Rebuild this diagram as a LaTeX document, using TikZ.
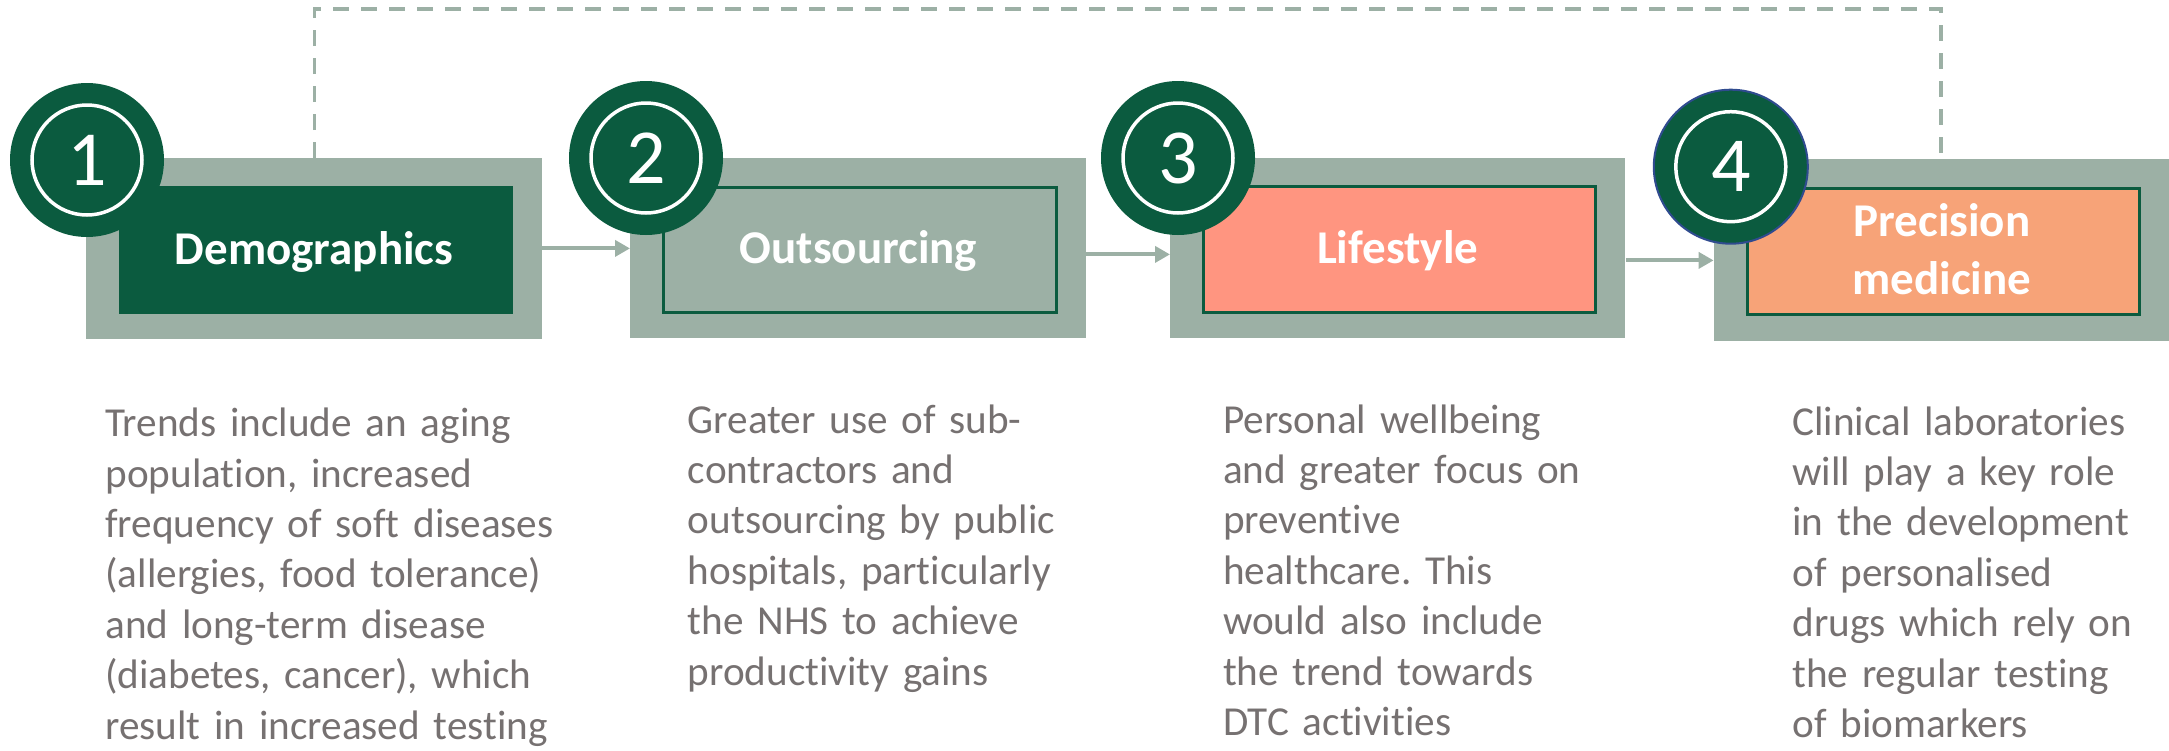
\documentclass[tikz,border=0pt]{standalone}
\usepackage{fontspec}
\setmainfont{Carlito}[Ligatures=NoCommon]
\usetikzlibrary{arrows.meta}
\frenchspacing

\definecolor{dkgreen}{HTML}{0B5B3F}
\definecolor{sage}{HTML}{9CB0A5}
\definecolor{salmon}{HTML}{FF9580}
\definecolor{peach}{HTML}{F7A378}
\definecolor{bodygrey}{HTML}{767171}
\definecolor{navy}{HTML}{2F4B8F}

\begin{document}
\begin{tikzpicture}[x=0.5pt,y=-0.5pt,
  outerbox/.style={fill=sage, draw=none, inner sep=0, anchor=north west, minimum height=90pt},
  innerbox/.style={draw=dkgreen, line width=1.5pt, inner sep=0, anchor=north west},
  title/.style={text=white, font=\fontsize{23.5}{29}\selectfont\bfseries, inner sep=0, anchor=base},
  disc/.style={circle, fill=dkgreen, minimum size=77pt, inner sep=0},
  ring/.style={circle, draw=white, line width=1.75pt, minimum size=55pt, inner sep=0,
    text=white, font=\fontsize{39}{39}\selectfont},
  body/.style={text=bodygrey, font=\fontsize{20.6}{25.2}\selectfont, inner sep=0,
    anchor=base west, text width=250pt, align=left},
  flow/.style={draw=sage, line width=2pt, -{Triangle[length=7.5pt,width=8pt]}},
  feedback/.style={draw=sage, line width=1.65pt, dash pattern=on 8pt off 6pt}]

\useasboundingbox (0,0) rectangle (2169,750);
\clip (0,0) rectangle (2169,750);

% outer frames
\node[outerbox, minimum width=227.75pt] (b1) at (86,158) {};
\node[outerbox, minimum width=227.75pt] (b2) at (630,158) {};
\node[outerbox, minimum width=227.5pt] (b3) at (1170,158) {};
\node[outerbox, minimum width=232pt, minimum height=90.35pt] (b4) at (1713.6,159.3) {};

% feedback loop from the last stage back to the first
\draw[feedback] (b1.north) -- ++(0,-149) -| ([xshift=-2.5pt]b4.north);
\fill[sage] (b1.north west) rectangle (b1.south east);
\fill[sage] (b4.north west) rectangle ([xshift=20pt]b4.south east);

% inner panels
\node[innerbox, draw=none, fill=dkgreen, minimum width=197pt, minimum height=64pt] (i1) at (117,184) {};
\node[innerbox, fill=sage, minimum width=196.25pt, minimum height=62.5pt] (i2) at (662,185.7) {};
\node[innerbox, fill=salmon, minimum width=196pt, minimum height=63pt] (i3) at (1202,185) {};
\node[innerbox, fill=peach, minimum width=195.8pt, minimum height=63pt] (i4) at (1746,186.7) {};

% titles
\node[title] (t1) at (314,264) {Demographics};
\node[title] (t2) at (858.5,263.3) {Outsourcing};
\node[title] (t3) at (1397.6,263.3) {Lifestyle};
\node[title, text width=200pt, align=center] (t4) at (1942,236.7) {Precision\\medicine};

% connectors
\draw[flow] (b1.east) -- (b1.east -| b2.west);
\draw[flow] ([yshift=-3pt]b2.east) -- ([yshift=-3pt]b2.east -| b3.west);
\draw[flow] ([yshift=-6pt]b3.east) -- ([yshift=-6pt]b3.east -| b4.west);

% numbered badges
\node[disc] (n1) at (87,160) {};
\node[ring] (r1) at (n1) {1};
\node[disc] (n2) at (646,158) {};
\node[ring] (r2) at (n2) {2};
\node[disc] (n3) at (1178,158) {};
\node[ring] (r3) at (n3) {3};
\node[disc, draw=navy, line width=1pt] (n4) at (1730.8,166.7) {};
\node[ring] (r4) at (n4) {4};

% descriptions
\node[body] (d1) at (105,436.7) {Trends include an aging\\population, increased\\frequency of soft diseases\\(allergies, food tolerance)\\and long-term disease\\(diabetes, cancer), which\\result in increased testing};
\node[body] (d2) at (687.5,433) {Greater use of sub-\\contractors and\\outsourcing by public\\hospitals, particularly\\the NHS to achieve\\productivity gains};
\node[body] (d3) at (1222.7,433) {Personal wellbeing\\and greater focus on\\preventive\\healthcare. This\\would also include\\the trend towards\\DTC activities};
\node[body] (d4) at (1792,435) {Clinical laboratories\\will play a key role\\in the development\\of personalised\\drugs which rely on\\the regular testing\\of biomarkers};
\end{tikzpicture}
\end{document}
